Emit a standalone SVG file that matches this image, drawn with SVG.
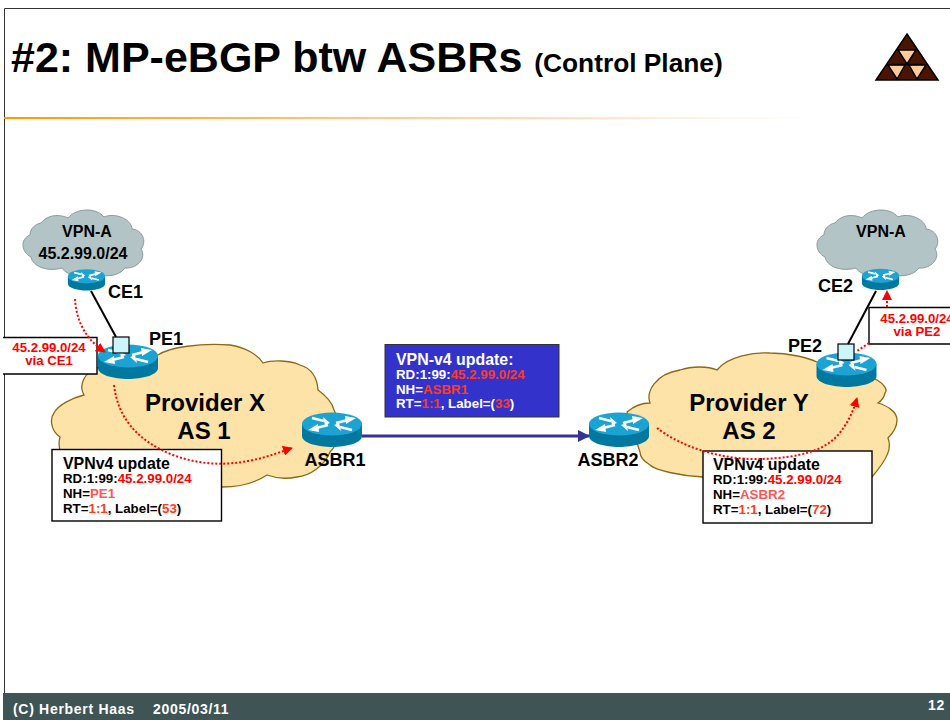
<svg xmlns="http://www.w3.org/2000/svg" width="950" height="720" viewBox="0 0 950 720">
<defs>
<marker id="ra" markerWidth="10" markerHeight="10" refX="9" refY="5" orient="auto" markerUnits="userSpaceOnUse" viewBox="0 0 10 10"><path d="M0 0L10 5L0 10z" fill="#f00"/></marker>
<marker id="ba" markerWidth="12" markerHeight="12" refX="11" refY="6" orient="auto" markerUnits="userSpaceOnUse" viewBox="0 0 12 12"><path d="M0 0L12 6L0 12z" fill="#333399"/></marker>
<linearGradient id="rule" x1="0" x2="1" y1="0" y2="0"><stop offset="0" stop-color="#ff9900"/><stop offset="0.45" stop-color="#ffd0a0"/><stop offset="0.85" stop-color="#ffffff"/></linearGradient>
<g id="router">
<path d="M-30 -6V6C-30 13 -14 17 0 17S30 13 30 6V-6z" fill="#00789f"/>
<ellipse cx="0" cy="-6" rx="30" ry="11.500" fill="#1ba3d3"/>
<path d="M4 -7L16 -10M-20 -12L-8 -9M20 0L8 -3M-4 -5L-16 -2" stroke="#fff" stroke-width="2.800" fill="none"/>
<path d="M24 -12L14 -6L13 -14zM-2 -7L-9 -13L-7 -5zM2 -5L9 1L7 -7zM-24 0L-14 -6L-13 2z" fill="#fff"/>
</g>
</defs>
<style>
text{font-family:"Liberation Sans",Arial,sans-serif;font-weight:bold;fill:#000}
.m{text-anchor:middle}
.lab{font-size:18px}
.prov{font-size:24px}
.box{fill:#fff;stroke:#000;stroke-width:1.400}
.head{font-size:15.900px}
.sm{font-size:13.300px}
.r{fill:#f00}
.o{fill:#ff3b1a}
.p{fill:#ff5555}
.dot{fill:none;stroke:#f00;stroke-width:2;stroke-dasharray:2 2}
.mini{font-size:13.200px;fill:#f00}
.vp{font-size:16px}
.ft{font-size:14px;fill:#fff;letter-spacing:.7px}
</style>
<rect width="950" height="720" fill="#fff"/>
<path d="M4.500 693V8.500H950" stroke="#333" stroke-width="1" fill="none"/>
<rect x="4" y="117" width="946" height="2" fill="url(#rule)"/>
<text id="title" x="11" y="72" font-size="43">#2: MP-eBGP btw ASBRs <tspan font-size="26.300">(Control Plane)</tspan></text>
<g id="logo">
<path d="M907 34L938 80H876z" fill="#4a1500" stroke="#000" stroke-width="1.500"/>
<path d="M898 50H916L907 64zM888 65H905L897 79zM909 65H926L917 79z" fill="#ffcc99" stroke="#000" stroke-width="1.500"/>
<path d="M891 64.500H923" stroke="#000" stroke-width="1.500"/>
</g>
<g id="cloud-vpn-a-left"><path d="M41 223C49 213 62 215 68 218C76 208 96 207 104 217C116 212 132 220 132 229C143 230 147 242 141 249C147 258 137 269 125 268C119 277 101 278 95 272C84 279 67 276 62 268C48 272 33 267 31 257C21 252 20 239 30 235C30 229 35 224 41 223z" fill="#b2c4c6" stroke="#8a9a9c" stroke-width="1"/>
<text class="m vp" x="87" y="237">VPN-A</text><text class="m vp" x="83" y="259">45.2.99.0/24</text></g>
<g id="cloud-vpn-a-right"><path transform="translate(794 0)" d="M41 223C49 213 62 215 68 218C76 208 96 207 104 217C116 212 132 220 132 229C143 230 147 242 141 249C147 258 137 269 125 268C119 277 101 278 95 272C84 279 67 276 62 268C48 272 33 267 31 257C21 252 20 239 30 235C30 229 35 224 41 223z" fill="#b2c4c6" stroke="#8a9a9c" stroke-width="1"/>
<text class="m vp" x="881" y="237">VPN-A</text></g>
<g id="cloud-provider-x"><path d="M84 395C78 385 85 372 97 368L158 355C170 347 200 343 230 345C245 347 258 355 263 363C272 360 290 360 300 365C310 368 317 375 318 390C325 395 332 402 334 410C342 425 338 445 330 452C325 465 310 476 297 477C287 479 275 478 267 475C255 483 240 487 222 487L100 480C70 470 55 455 60 437C50 430 50 418 54 413C58 405 72 398 84 395z" fill="#fde3a7" stroke="#8b6914" stroke-width="1.300"/></g>
<g id="cloud-provider-y"><path d="M627 412C634 406 642 403 650 403C646 392 655 374 680 370C692 366 708 366 717 370C728 356 755 352 770 353C790 353 808 358 817 362L877 380C884 384 888 390 885 393C884 398 881 401 878 403C888 406 897 412 897 420C897 428 892 434 888 438C892 448 888 458 872 477L703 477C680 476 655 470 650 465C645 462 640 458 640 452z" fill="#fde3a7" stroke="#8b6914" stroke-width="1.300"/></g>
<text class="prov m" x="205" y="411">Provider X</text><text class="prov m" x="204" y="439">AS 1</text>
<text class="prov m" x="749" y="411">Provider Y</text><text class="prov m" x="749" y="439">AS 2</text>
<g id="info-left"><path class="box" d="M3 337.500H97V374H3"/><text class="mini m" x="49" y="352">45.2.99.0/24</text><text class="mini m" x="49" y="365">via CE1</text></g>
<g id="info-right"><path d="M950 307.500H869V344H950" class="box"/><text class="mini m" x="917" y="323">45.2.99.0/24</text><text class="mini m" x="917" y="336">via PE2</text></g>
<g id="pe1"><use href="#router" x="128" y="362"/><rect x="113" y="337" width="16" height="16" fill="#ccf5fa" stroke="#000" stroke-width="1.200"/><text class="lab" x="149" y="345">PE1</text></g>
<g id="ce1"><use href="#router" transform="translate(86.500 280) scale(.62)"/><text class="lab" x="108" y="298">CE1</text></g>
<g id="pe2"><use href="#router" x="846.500" y="370"/><rect x="838" y="344" width="16" height="16" fill="#ccf5fa" stroke="#000" stroke-width="1.200"/><text class="lab" x="788" y="352">PE2</text></g>
<g id="ce2"><use href="#router" transform="translate(880.500 279.500) scale(.62)"/><text class="lab" x="818" y="292">CE2</text></g>
<g id="asbr1"><use href="#router" x="332" y="430"/><text class="lab m" x="335" y="466">ASBR1</text></g>
<g id="asbr2"><use href="#router" x="619" y="430"/><text class="lab m" x="608" y="466">ASBR2</text></g>
<g id="box-x"><rect class="box" x="52" y="449.500" width="169.500" height="71.500"/>
<text class="head" x="63" y="469">VPNv4 update</text>
<text class="sm" x="63" y="483">RD:1:99:<tspan class="r">45.2.99.0/24</tspan></text>
<text class="sm" x="63" y="498">NH=<tspan class="p">PE1</tspan></text>
<text class="sm" x="63" y="513">RT=<tspan class="o">1:1</tspan>, Label=(<tspan class="o">53</tspan>)</text></g>
<g id="box-y"><rect class="box" x="703" y="451" width="169" height="72"/>
<text class="head" x="713" y="470">VPNv4 update</text>
<text class="sm" x="713" y="484">RD:1:99:<tspan class="r">45.2.99.0/24</tspan></text>
<text class="sm" x="713" y="499">NH=<tspan class="p">ASBR2</tspan></text>
<text class="sm" x="713" y="514">RT=<tspan class="o">1:1</tspan>, Label=(<tspan class="o">72</tspan>)</text></g>
<g id="box-mid"><rect x="385" y="344.500" width="174" height="72.500" fill="#3333cc" stroke="#333" stroke-width="1"/>
<text class="head" x="396" y="365" style="fill:#fff">VPN-v4 update:</text>
<text class="sm" x="396" y="379" style="fill:#fff">RD:1:99:<tspan class="o">45.2.99.0/24</tspan></text>
<text class="sm" x="396" y="394" style="fill:#fff">NH=<tspan class="o">ASBR1</tspan></text>
<text class="sm" x="396" y="408" style="fill:#fff">RT=<tspan class="o">1:1</tspan>, Label=(<tspan class="o">33</tspan>)</text></g>
<g id="connectors">
<path d="M91 291L116 337" stroke="#000" stroke-width="2" fill="none"/>
<path d="M876 291L848 344" stroke="#000" stroke-width="2" fill="none"/>
<path d="M362 436H589" stroke="#333399" stroke-width="3" fill="none" marker-end="url(#ba)"/>
<path d="M75 299C76 316 82 337 105 352" class="dot" marker-end="url(#ra)"/>
<path d="M114 385C118 420 140 442 173 455C200 465 225 466 253 460C268 457 280 452 292 448" class="dot" marker-end="url(#ra)"/>
<path d="M657 428C680 446 720 460 760 459C800 458 825 450 838 435C848 423 853 412 857 398" class="dot" marker-end="url(#ra)"/>
<path d="M887 307V291" class="dot" marker-end="url(#ra)"/>
<path d="M869 343L857 351" class="dot"/>
</g>
<g id="footer"><rect x="3" y="693" width="947" height="27" fill="#3f5555"/>
<text class="ft" x="13" y="714">(C) Herbert Haas</text><text class="ft" x="153" y="714">2005/03/11</text><text class="ft" x="928" y="710">12</text></g>
</svg>
